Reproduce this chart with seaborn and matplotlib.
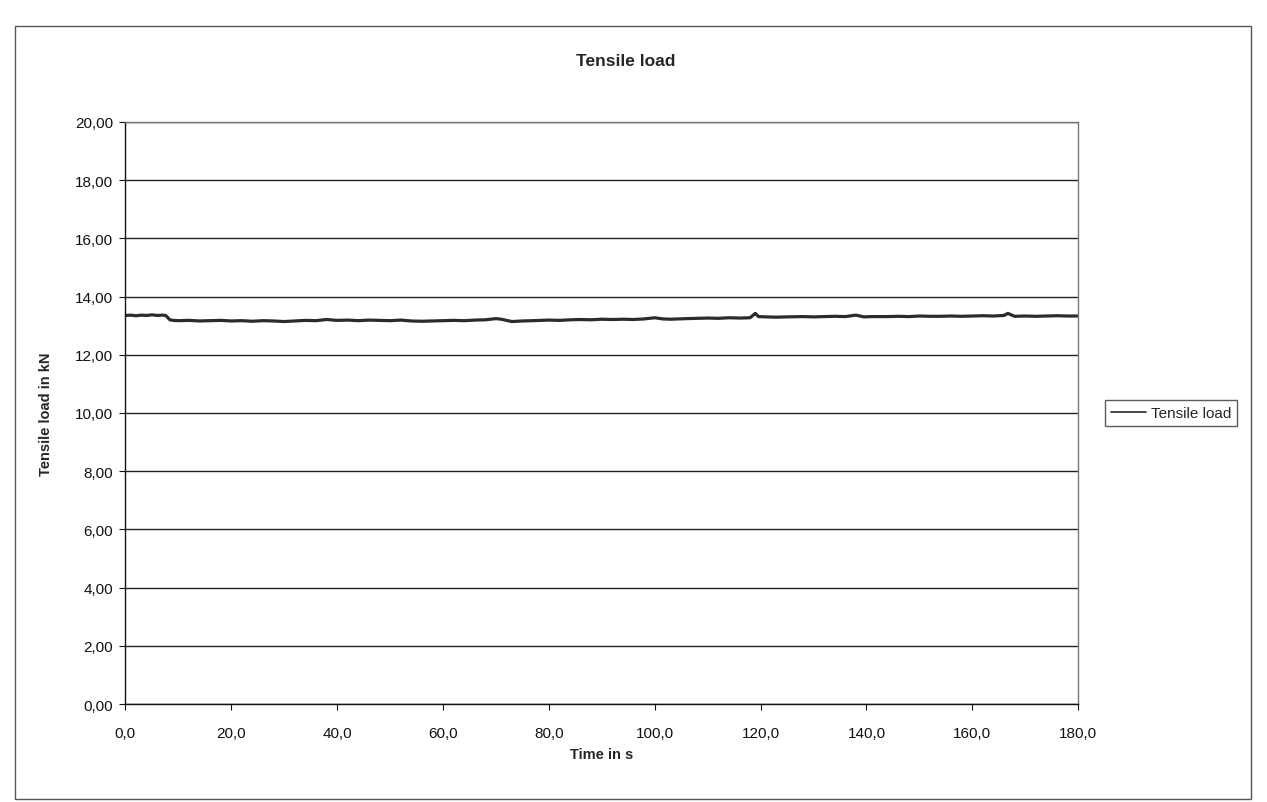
import numpy as np
import pandas as pd
import seaborn as sns
import matplotlib.pyplot as plt
from matplotlib.patches import Rectangle
from matplotlib.ticker import FuncFormatter, MultipleLocator

# values
time_s = [0, 1, 2, 3, 4, 5, 6, 7, 7.6, 8.4, 9, 10, 12, 14, 16, 18, 20, 22, 24,
          26, 28, 30, 32, 34, 36, 38, 40, 42, 44, 46, 48, 50, 52, 54, 56, 58,
          60, 62, 64, 66, 68, 70, 71, 73, 75, 77, 80, 82, 84, 86, 88, 90, 92,
          94, 96, 98, 100, 101.5, 103, 106, 108, 110, 112, 114, 116, 118,
          119, 119.6, 121, 123, 125, 128, 130, 132, 134, 136, 138, 139.5, 141,
          144, 146, 148, 150, 152, 154, 156, 158, 160, 162, 164, 166, 166.7,
          168, 170, 172, 174, 176, 178, 180]
load_kn = [13.35, 13.36, 13.34, 13.36, 13.35, 13.37, 13.35, 13.36, 13.35,
           13.20, 13.18, 13.17, 13.18, 13.16, 13.17, 13.18, 13.16, 13.17,
           13.15, 13.17, 13.16, 13.14, 13.16, 13.18, 13.17, 13.21, 13.18,
           13.19, 13.17, 13.19, 13.18, 13.17, 13.19, 13.16, 13.15, 13.16,
           13.17, 13.18, 13.17, 13.19, 13.20, 13.24, 13.22, 13.14, 13.16,
           13.17, 13.19, 13.18, 13.20, 13.21, 13.20, 13.22, 13.21, 13.22,
           13.21, 13.23, 13.27, 13.23, 13.22, 13.24, 13.25, 13.26, 13.25,
           13.27, 13.26, 13.27, 13.42, 13.31, 13.30, 13.29, 13.30, 13.31,
           13.30, 13.31, 13.32, 13.31, 13.36, 13.30, 13.31, 13.31, 13.32,
           13.31, 13.33, 13.32, 13.32, 13.33, 13.32, 13.33, 13.34, 13.33,
           13.35, 13.42, 13.32, 13.33, 13.32, 13.33, 13.34, 13.33, 13.33]
series_name = "Tensile load"
x_ticks = [0, 20, 40, 60, 80, 100, 120, 140, 160, 180]
y_ticks = [0, 2, 4, 6, 8, 10, 12, 14, 16, 18, 20]

df = pd.DataFrame({"time": time_s, "load": load_kn})

sns.set_style("white")
plt.rcParams["font.family"] = ["Liberation Sans", "DejaVu Sans"]

fig = plt.figure(figsize=(12.67, 8.03), dpi=100)
ax = fig.add_axes([0.099, 0.122, 0.752, 0.725])

# outer chart border
fig.patches.append(Rectangle((0.012, 0.004), 0.975, 0.962, transform=fig.transFigure,
                             fill=False, edgecolor="#555555", linewidth=1.0))

sns.lineplot(data=df, x="time", y="load", ax=ax, color="#2b2b2b", linewidth=2.3,
             label=series_name)

ax.set_xlim(0, 180)
ax.set_ylim(0, 20)
ax.set_xticks(x_ticks)
ax.set_yticks(y_ticks)
ax.xaxis.set_major_formatter(FuncFormatter(lambda v, p: f"{v:.1f}".replace(".", ",")))
ax.yaxis.set_major_formatter(FuncFormatter(lambda v, p: f"{v:.2f}".replace(".", ",")))
ax.yaxis.grid(True, color="#222222", linewidth=1.0)
ax.set_axisbelow(True)
ax.tick_params(axis="both", direction="out", length=4, width=0.8, labelsize=11,
               colors="#111111", bottom=True, left=True)
ax.tick_params(axis="x", pad=12)
ax.tick_params(axis="y", pad=5)

for side in ["left", "bottom"]:
    ax.spines[side].set_color("#111111")
    ax.spines[side].set_linewidth(1.0)
for side in ["top", "right"]:
    ax.spines[side].set_color("#777777")
    ax.spines[side].set_linewidth(1.0)

ax.set_xlabel("Time in s", fontsize=10.5, fontweight="bold", labelpad=5)
ax.set_ylabel("Tensile load in kN", fontsize=10.5, fontweight="bold", labelpad=16)
fig.text(0.494, 0.923, "Tensile load", fontsize=12.5, fontweight="bold",
         ha="center", va="center")

leg = ax.legend(loc="center left", bbox_to_anchor=(1.02, 0.5), frameon=True,
                fancybox=False, fontsize=11, handlelength=2.3, handletextpad=0.3,
                borderpad=0.4)
leg.get_frame().set_edgecolor("#333333")
leg.get_frame().set_linewidth(1.0)
leg.get_lines()[0].set_linewidth(1.2)

fig.savefig("out.png", dpi=100)
